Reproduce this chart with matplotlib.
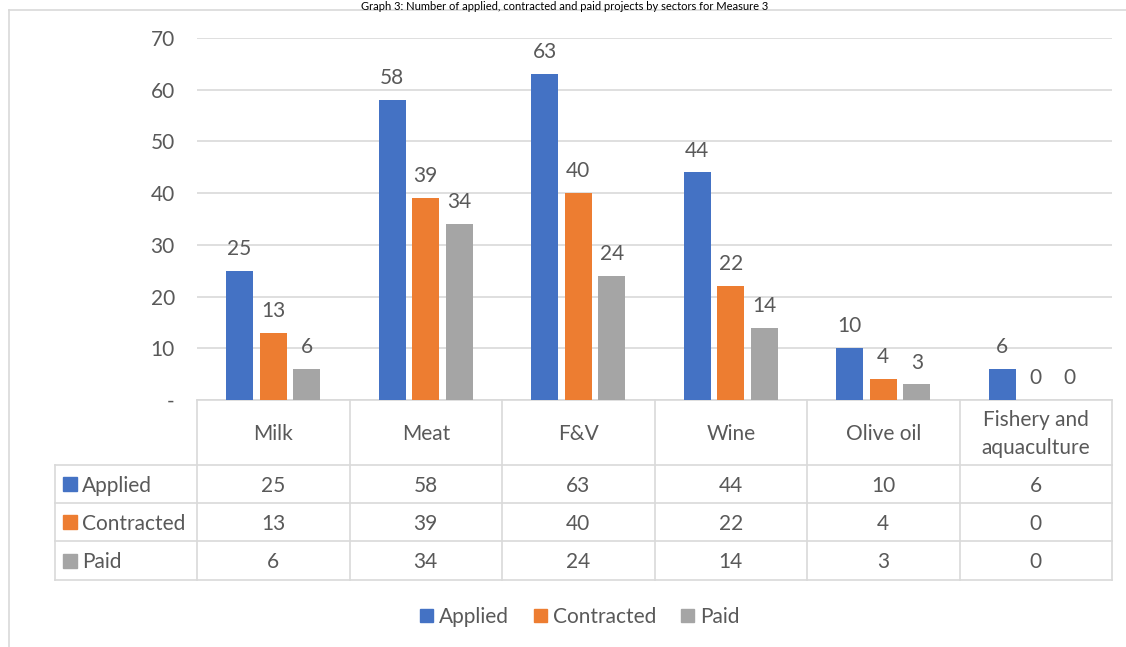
import numpy as np
import matplotlib
matplotlib.use("Agg")
import matplotlib.pyplot as plt
from matplotlib.lines import Line2D
from matplotlib.patches import Rectangle

plt.rcParams['font.family'] = ['Lato', 'DejaVu Sans']

# data
sectors = ["Milk", "Meat", "F&V", "Wine", "Olive oil", "Fishery and\naquaculture"]
series = ["Applied", "Contracted", "Paid"]
applied = [25, 58, 63, 44, 10, 6]
contracted = [13, 39, 40, 22, 4, 0]
paid = [6, 34, 24, 14, 3, 0]
colors = ["#4472C4", "#ED7D31", "#A5A5A5"]
yticks = [0, 10, 20, 30, 40, 50, 60, 70]
title = "Graph 3: Number of applied, contracted and paid projects by sectors for Measure 3"

W, H = 1126, 647
txt = "#595959"
grid = "#D9D9D9"
fs = 15

fig = plt.figure(figsize=(W / 100, H / 100), dpi=100)


def fx(px):
    return px / W


def fy(py):
    return 1 - py / H


# plot area (pixel coords from the reference)
left, right, top, bottom = 197, 1112, 38, 400
ax = fig.add_axes([fx(left), fy(bottom), fx(right - left), fy(top) - fy(bottom)])

values = [applied, contracted, paid]
n = len(sectors)
x = np.arange(n)
bw = 0.177
step = 0.221
for i, (vals, c) in enumerate(zip(values, colors)):
    pos = x + (i - 1) * step
    ax.bar(pos, vals, width=bw, color=c, zorder=3)
    for p, v in zip(pos, vals):
        ax.text(p, v + 2.3, str(v), ha='center', va='bottom', fontsize=fs, color=txt)

ax.set_xlim(-0.5, n - 0.5)
ax.set_ylim(0, 70)
ax.set_yticks(yticks)
ax.set_yticklabels(["-" if t == 0 else str(t) for t in yticks])
ax.tick_params(axis='y', length=0, pad=16, labelsize=fs, labelcolor=txt)
ax.tick_params(axis='x', length=0, labelbottom=False)
ax.grid(axis='y', color=grid, linewidth=1.2, zorder=0)
for s in ["top", "right", "left"]:
    ax.spines[s].set_visible(False)
ax.spines["bottom"].set_color(grid)
ax.spines["bottom"].set_linewidth(1.2)

# data table under the plot
col_w = (right - left) / n
rows_y = [400, 465, 503, 541, 580]
lab_left = 55
lw = 1.2


def hline(y, x0, x1):
    fig.add_artist(Line2D([fx(x0), fx(x1)], [fy(y), fy(y)], color=grid, lw=lw))


def vline(xp, y0, y1):
    fig.add_artist(Line2D([fx(xp), fx(xp)], [fy(y0), fy(y1)], color=grid, lw=lw))


for y in rows_y[1:]:
    hline(y, lab_left, right)
for k in range(n + 1):
    vline(left + k * col_w, rows_y[0], rows_y[-1])
vline(lab_left, rows_y[1], rows_y[-1])

for k, name in enumerate(sectors):
    cx = left + (k + 0.5) * col_w
    fig.text(fx(cx), fy((rows_y[0] + rows_y[1]) / 2 + 1), name, ha='center', va='center',
             fontsize=fs, color=txt, linespacing=1.5)

for r, (name, vals, c) in enumerate(zip(series, values, colors)):
    cy = (rows_y[r + 1] + rows_y[r + 2]) / 2
    fig.add_artist(Rectangle((fx(63), fy(cy + 7)), fx(14), fy(cy - 7) - fy(cy + 7), color=c))
    fig.text(fx(82), fy(cy + 2), name, ha='left', va='center', fontsize=fs, color=txt)
    for k, v in enumerate(vals):
        cx = left + (k + 0.5) * col_w
        fig.text(fx(cx), fy(cy + 2), str(v), ha='center', va='center', fontsize=fs, color=txt)

# legend
handles = [Rectangle((0, 0), 1, 1, color=c) for c in colors]
fig.legend(handles, series, loc='center', bbox_to_anchor=(fx(580), fy(617)), ncol=3,
           frameon=False, fontsize=fs, labelcolor=txt, handlelength=0.6, handleheight=0.6,
           handletextpad=0.3, columnspacing=1.2)

# outer chart frame (runs off the figure edges)
hline(10, 9, W)
vline(9, 10, H)

# title squeezed into the strip above the frame
fig.text(fx(565), fy(0.5), title, ha='center', va='top', fontsize=8, color="#000000")

fig.savefig("out.png", dpi=100, facecolor='white')
